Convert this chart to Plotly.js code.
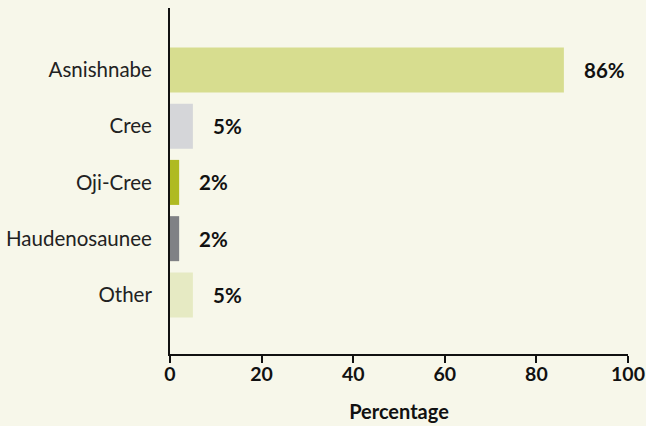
<!DOCTYPE html>
<html><head><meta charset="utf-8">
<script src="https://cdn.plot.ly/plotly-3.0.1.min.js"></script>
<style>html,body{margin:0;padding:0;background:#f7f7ea;}</style>
</head><body>
<div id="chart" style="width:646px;height:426px;"></div>
<script>
const categories = ["Asnishnabe", "Cree", "Oji-Cree", "Haudenosaunee", "Other"];
const values = [86, 5, 2, 2, 5];
const valueLabels = ["86%", "5%", "2%", "2%", "5%"];
const barColors = ["#d7dd8f", "#d5d6d9", "#afba22", "#808185", "#e6eac3"];
const xTicks = [0, 20, 40, 60, 80, 100];

const trace = {
  type: "bar", orientation: "h",
  y: categories, x: values,
  marker: {color: barColors},
  width: 0.8,
  hoverinfo: "none"
};
const annotations = categories.map((c, i) => ({
  x: values[i], y: c, xref: "x", yref: "y",
  text: "<b>" + valueLabels[i] + "</b>",
  showarrow: false, xanchor: "left", xshift: 18,
  font: {family: "Lato, sans-serif", size: 20.5, color: "#111"}
}));
const layout = {
  width: 646, height: 426,
  paper_bgcolor: "#f7f7ea", plot_bgcolor: "#f7f7ea",
  margin: {l: 170, r: 18, t: 8, b: 72},
  showlegend: false,
  font: {family: "Lato, sans-serif", size: 20, color: "#222"},
  xaxis: {
    range: [0, 100], tickvals: xTicks, ticktext: xTicks.map(v => "<b>" + v + "</b>"),
    showgrid: false, zeroline: false,
    showline: true, linecolor: "#111", linewidth: 2,
    ticks: "outside", ticklen: 7, tickwidth: 2, tickcolor: "#111",
    ticklabelstandoff: -5,
    tickfont: {size: 19.5, color: "#111"},
    title: {text: "<b>Percentage</b>", font: {size: 20, color: "#111"}, standoff: 21}
  },
  yaxis: {
    type: "category", range: [5.05, -1.1], autorange: false,
    showgrid: false, zeroline: false,
    showline: true, linecolor: "#111", linewidth: 2,
    ticks: "", ticklabelstandoff: 12,
    tickfont: {size: 20.5, color: "#222"}
  },
  annotations: annotations
};
Plotly.newPlot("chart", [trace], layout, {displayModeBar: false, staticPlot: true});
</script>
</body></html>
